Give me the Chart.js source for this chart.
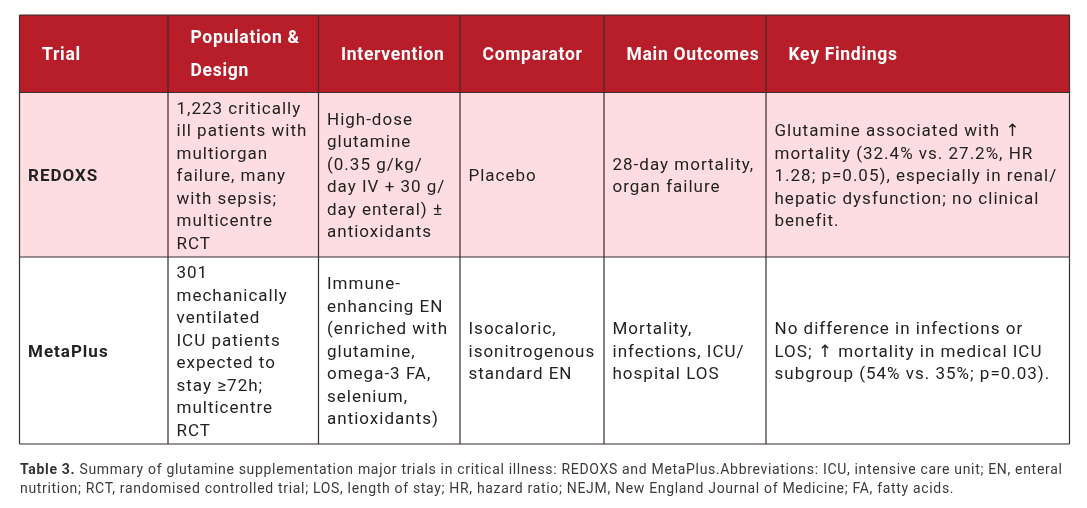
<!DOCTYPE html>
<html>
<head>
<meta charset="utf-8">
<script src="https://cdn.jsdelivr.net/npm/chart.js@4.4.1/dist/chart.umd.min.js"></script>
<style>
  html, body { margin: 0; padding: 0; background: #fff; }
  #wrap { position: relative; width: 1087px; height: 508px; }
  #caption {
    position: absolute; left: 20px; top: 460px; width: 1065px;
    font: 14px Roboto, 'DejaVu Sans', sans-serif; line-height: 19px; color: #3a3a3a;
    letter-spacing: 0.68px; white-space: nowrap;
  }
  #caption b { color: #333; }
</style>
</head>
<body>
<div id="wrap">
  <canvas id="table_chart"></canvas>
  <div id="caption"><b>Table 3.</b> Summary of glutamine supplementation major trials in critical illness: REDOXS and MetaPlus.Abbreviations: ICU, intensive care unit; EN, enteral<br>nutrition; RCT, randomised controlled trial; LOS, length of stay; HR, hazard ratio; NEJM, New England Journal of Medicine; FA, fatty acids.</div>
</div>
<script>
// table content
var headers = [['Trial'], ['Population &', 'Design'], ['Intervention'], ['Comparator'], ['Main Outcomes'], ['Key Findings']];
var trials = ['REDOXS', 'MetaPlus'];
var population = [
    ['1,223 critically', 'ill patients with', 'multiorgan', 'failure, many', 'with sepsis;', 'multicentre', 'RCT'],
    ['301', 'mechanically', 'ventilated', 'ICU patients', 'expected to', 'stay \u226572h;', 'multicentre', 'RCT']
];
var intervention = [
    ['High-dose', 'glutamine', '(0.35 g/kg/', 'day IV + 30 g/', 'day enteral) \u00b1', 'antioxidants'],
    ['Immune-', 'enhancing EN', '(enriched with', 'glutamine,', 'omega-3 FA,', 'selenium,', 'antioxidants)']
];
var comparator = [
    ['Placebo'],
    ['Isocaloric,', 'isonitrogenous', 'standard EN']
];
var outcomes = [
    ['28-day mortality,', 'organ failure'],
    ['Mortality,', 'infections, ICU/', 'hospital LOS']
];
var findings = [
    ['Glutamine associated with \u2191', 'mortality (32.4% vs. 27.2%, HR', '1.28; p=0.05), especially in renal/', 'hepatic dysfunction; no clinical', 'benefit.'],
    ['No difference in infections or', 'LOS; \u2191 mortality in medical ICU', 'subgroup (54% vs. 35%; p=0.03).']
];

// layout (scale units)
var colEdges = [0, 148.5, 299, 440.5, 584.5, 746.5, 1050];
var rowEdges = [0, 77.5, 242, 429];
var rowFills = ['#B81E29', '#FDDDDF', '#FFFFFF'];
var bodyFont = "17px Roboto, 'DejaVu Sans', sans-serif";
var boldFont = "bold 17px Roboto, 'DejaVu Sans', sans-serif";
var headFont = "bold 17.5px Roboto, 'DejaVu Sans', sans-serif";

function drawLines(ctx, lines, x, yc, lh) {
    var n = lines.length;
    for (var i = 0; i < n; i++) {
        ctx.fillText(lines[i], x, yc + (i - (n - 1) / 2) * lh);
    }
}

var tablePlugin = {
    id: 'tablePlugin',
    afterDraw: function(chart) {
        var ctx = chart.ctx;
        var xs = chart.scales.x, ys = chart.scales.y;
        var X = function(v) { return xs.getPixelForValue(v); };
        var Y = function(v) { return ys.getPixelForValue(v); };
        ctx.save();
        // row backgrounds
        for (var r = 0; r < 3; r++) {
            ctx.fillStyle = rowFills[r];
            ctx.fillRect(X(0), Y(rowEdges[r]), X(1050) - X(0), Y(rowEdges[r + 1]) - Y(rowEdges[r]));
        }
        // grid lines
        ctx.strokeStyle = '#3b2e2e';
        ctx.lineWidth = 1.2;
        ctx.beginPath();
        for (var r = 0; r < rowEdges.length; r++) {
            ctx.moveTo(X(0), Y(rowEdges[r]));
            ctx.lineTo(X(1050), Y(rowEdges[r]));
        }
        for (var c = 0; c < colEdges.length; c++) {
            ctx.moveTo(X(colEdges[c]), Y(0));
            ctx.lineTo(X(colEdges[c]), Y(429));
        }
        ctx.stroke();

        ctx.textBaseline = 'middle';
        ctx.textAlign = 'left';
        // header
        ctx.fillStyle = '#FFFFFF';
        ctx.font = headFont;
        ctx.letterSpacing = '0.7px';
        var hc = (Y(rowEdges[0]) + Y(rowEdges[1])) / 2 + 1.5;
        for (var c = 0; c < headers.length; c++) {
            drawLines(ctx, headers[c], X(colEdges[c]) + 22.5, hc, 33);
        }
        // body rows
        ctx.fillStyle = '#222222';
        ctx.letterSpacing = '1px';
        for (var r = 0; r < trials.length; r++) {
            var yc = (Y(rowEdges[r + 1]) + Y(rowEdges[r + 2])) / 2 + 2;
            ctx.font = boldFont;
            drawLines(ctx, [trials[r]], X(colEdges[0]) + 8.5, yc, 22.5);
            ctx.font = bodyFont;
            var cols = [population[r], intervention[r], comparator[r], outcomes[r], findings[r]];
            for (var c = 0; c < cols.length; c++) {
                drawLines(ctx, cols[c], X(colEdges[c + 1]) + 8.5, yc, 22.5);
            }
        }
        ctx.restore();
    }
};

const ctx = document.getElementById('table_chart');
new Chart(ctx, {
    type: 'scatter',
    data: {
        datasets: [{ data: [] }]
    },
    options: {
        responsive: true,
        maintainAspectRatio: false,
        animation: false,
        layout: { padding: { left: 19.5, top: 15, right: 17.5, bottom: 64 } },
        plugins: { legend: { display: false }, tooltip: { enabled: false } },
        scales: {
            x: { type: 'linear', min: 0, max: 1050, display: false },
            y: { type: 'linear', min: 0, max: 429, reverse: true, display: false }
        }
    },
    plugins: [tablePlugin]
});
</script>
</body>
</html>
